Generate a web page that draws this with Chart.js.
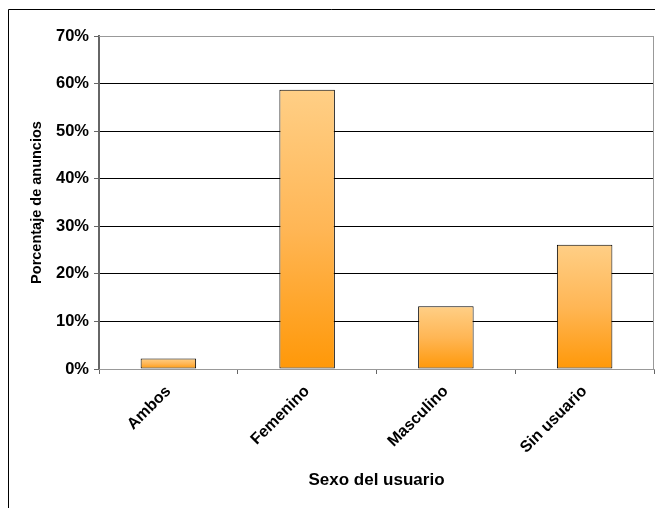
<!DOCTYPE html>
<html>
<head>
<meta charset="utf-8">
<script src="https://cdn.jsdelivr.net/npm/chart.js@4"></script>
<style>
  html, body { margin: 0; padding: 0; background: #fff; }
  #wrap { width: 655px; height: 508px; }
</style>
</head>
<body>
<div id="wrap"><canvas id="chart" width="655" height="508"></canvas></div>
<script>
    // datos
    const categorias = ['Ambos', 'Femenino', 'Masculino', 'Sin usuario'];
    const porcentajes = [2.2, 58.7, 13.2, 26.1];
    const ticksY = [0, 10, 20, 30, 40, 50, 60, 70];

    const FONT = '"Liberation Sans", Arial, sans-serif';

    // degradado vertical de cada barra
    function barGradient(context) {
        const chart = context.chart;
        const y = chart.scales.y;
        if (!chart.chartArea || !y) return '#FFB347';
        const v = context.raw;
        const top = y.getPixelForValue(v);
        const bottom = y.getPixelForValue(0);
        if (!isFinite(top) || !isFinite(bottom) || top === bottom) return '#FFB347';
        const g = chart.ctx.createLinearGradient(0, top, 0, bottom);
        g.addColorStop(0, '#FFCF86');
        g.addColorStop(0.5, '#FFB655');
        g.addColorStop(1, '#FF9808');
        return g;
    }

    // marco exterior y bordes del área de trazado
    const framePlugin = {
        id: 'frame',
        afterDraw: (chart) => {
            const ctx = chart.ctx;
            const a = chart.chartArea;
            ctx.save();
            ctx.strokeStyle = '#999999';
            ctx.lineWidth = 1;
            ctx.beginPath();
            ctx.moveTo(a.left, a.top + 0.5);
            ctx.lineTo(a.right - 0.5, a.top + 0.5);
            ctx.lineTo(a.right - 0.5, a.bottom);
            ctx.stroke();

            ctx.strokeStyle = '#000000';
            ctx.beginPath();
            ctx.moveTo(8.5, 508);
            ctx.lineTo(8.5, 9.5);
            ctx.lineTo(655, 9.5);
            ctx.stroke();
            ctx.restore();
        }
    };

    new Chart(document.getElementById('chart'), {
        type: 'bar',
        data: {
            labels: categorias,
            datasets: [{
                label: 'Porcentaje de anuncios',
                data: porcentajes,
                backgroundColor: barGradient,
                borderColor: '#000000',
                borderWidth: 1,
                borderSkipped: false,
                barPercentage: 0.4,
                categoryPercentage: 1.0
            }]
        },
        options: {
            responsive: false,
            animation: false,
            events: [],
            layout: {
                padding: { left: 9, top: 36, right: 1, bottom: 0 }
            },
            plugins: {
                legend: { display: false },
                tooltip: { enabled: false }
            },
            scales: {
                y: {
                    min: 0,
                    max: 70,
                    afterBuildTicks: (scale) => {
                        scale.ticks = ticksY.map(v => ({ value: v }));
                    },
                    afterFit: (scale) => { scale.width = 90; },
                    ticks: {
                        color: '#000000',
                        font: { family: FONT, size: 16.5, weight: 'bold' },
                        padding: 5,
                        callback: (v) => v + '%'
                    },
                    grid: {
                        color: (c) => c.tick && c.tick.value === 70 ? '#999999' : '#000000',
                        lineWidth: 1,
                        tickLength: 5,
                        tickColor: '#666666'
                    },
                    border: { color: '#666666', width: 2 },
                    title: {
                        display: true,
                        text: 'Porcentaje de anuncios',
                        color: '#000000',
                        font: { family: FONT, size: 14.5, weight: 'bold' },
                        padding: { top: 19, bottom: 0 }
                    }
                },
                x: {
                    afterFit: (scale) => { scale.height = 139; },
                    ticks: {
                        color: '#000000',
                        font: { family: FONT, size: 16, weight: 'bold' },
                        minRotation: 45,
                        maxRotation: 45,
                        padding: 8
                    },
                    grid: {
                        offset: true,
                        drawOnChartArea: false,
                        tickLength: 5,
                        tickColor: '#666666'
                    },
                    border: { color: '#999999', width: 1 },
                    title: {
                        display: true,
                        text: 'Sexo del usuario',
                        color: '#000000',
                        font: { family: FONT, size: 17, weight: 'bold' },
                        padding: { top: 10, bottom: 17 }
                    }
                }
            }
        },
        plugins: [framePlugin]
    });
</script>
</body>
</html>
